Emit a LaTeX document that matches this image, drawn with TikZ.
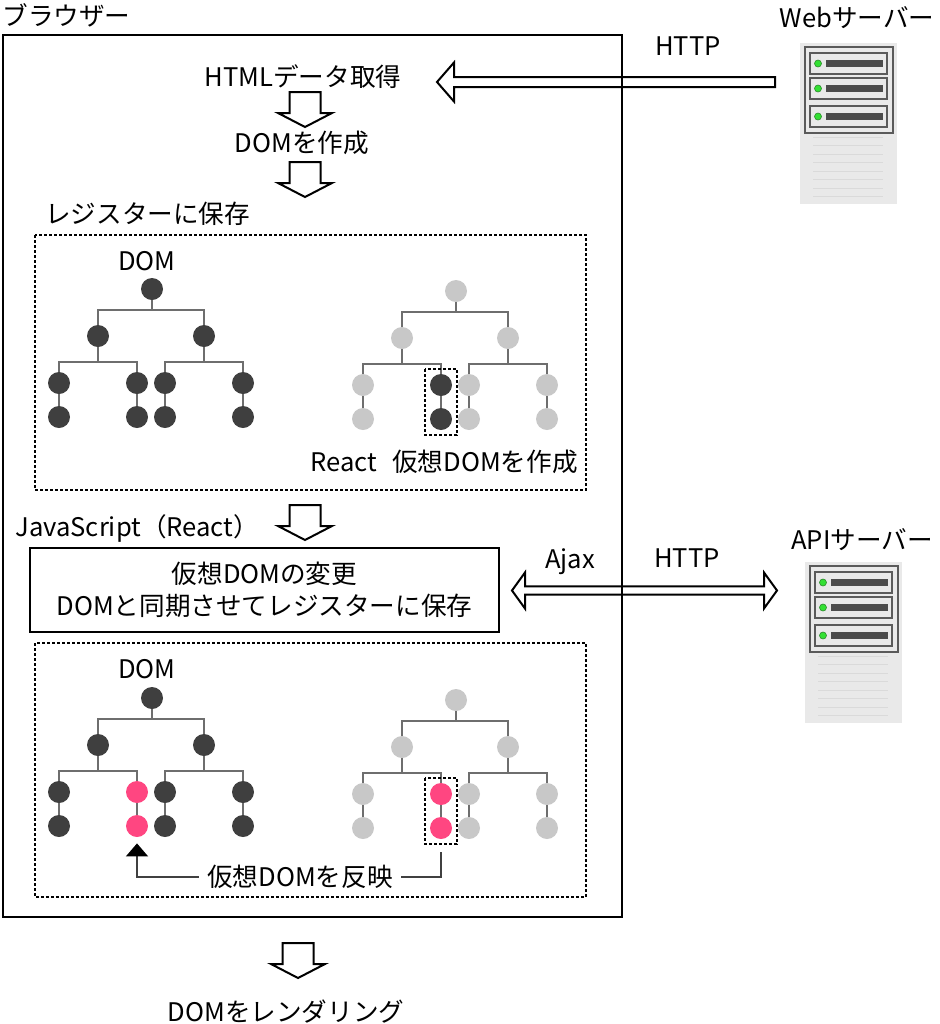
\documentclass[tikz,border=0pt]{standalone}
\usepackage{fontspec}
\setmainfont{Noto Sans CJK JP}
\usepackage{tikz}
\usetikzlibrary{arrows.meta, calc}
\definecolor{NodeDark}{HTML}{3F3F3F}
\definecolor{NodeLight}{HTML}{C8C8C8}
\definecolor{NodePink}{HTML}{FF4681}
\definecolor{TreeLine}{HTML}{6E6E6E}
\definecolor{RackBg}{HTML}{E9E9E9}
\definecolor{RackLine}{HTML}{5A5A5A}
\definecolor{RackBar}{HTML}{4B4B4B}
\definecolor{RackRule}{HTML}{DADADA}
\definecolor{Led}{HTML}{33E033}
\definecolor{LedEdge}{HTML}{2A8A2A}
\newcommand{\DomTree}[4]{
	\def\tfill{#3}
	\def\tpick{#4}
	\begin{scope}[shift={(#2)}]
		\node[dot, fill=\tfill] (#1-r) at (0,0) {};
		\node[dot, fill=\tfill] (#1-a) at (-54,47) {};
		\node[dot, fill=\tfill] (#1-b) at (52,47) {};
		\node[dot, fill=\tfill] (#1-aa) at (-93,94) {};
		\node[dot, fill=\tpick] (#1-ab) at (-15,94) {};
		\node[dot, fill=\tfill] (#1-ba) at (13,94) {};
		\node[dot, fill=\tfill] (#1-bb) at (91,94) {};
		\node[dot, fill=\tfill] (#1-aa2) at (-93,128) {};
		\node[dot, fill=\tpick] (#1-ab2) at (-15,128) {};
		\node[dot, fill=\tfill] (#1-ba2) at (13,128) {};
		\node[dot, fill=\tfill] (#1-bb2) at (91,128) {};

		\draw[treeline] (#1-r) -- (0,21);
		\draw[treeline] (#1-a) |- (0,21) -| (#1-b);
		\draw[treeline] (#1-a) -- (-54,73);
		\draw[treeline] (#1-aa) |- (-54,73) -| (#1-ab);
		\draw[treeline] (#1-b) -- (52,73);
		\draw[treeline] (#1-ba) |- (52,73) -| (#1-bb);
		\foreach \k in {aa,ab,ba,bb} \draw[treeline] (#1-\k) -- (#1-\k2);
	\end{scope}
}
\newcommand{\ServerRack}[2]{
	\begin{scope}[shift={(#2)}]
		\fill[RackBg] (0,0) rectangle (97,161);
		\coordinate (#1) at (48.5,80.5);
		\draw[RackLine, line width=0.6pt] (5,4) rectangle (93,90);
		\foreach \t in {10,35,63}{
			\draw[RackLine, line width=0.6pt] (10,\t) rectangle (87,\t+21);
			\filldraw[draw=LedEdge, fill=Led, line width=0.3pt] (18,\t+10.5) circle (3.5);
			\filldraw[draw=black!70, fill=RackBar, line width=0.4pt] (26,\t+7.5) rectangle (82,\t+13.5);
		}
		\foreach \l in {0,...,7} \draw[RackRule, line width=0.5pt] (13,94+8.5*\l) -- (83,94+8.5*\l);
	\end{scope}
}
\newcommand{\DownArrow}[1]{
	\draw[hollow] ($(#1)+(-15.5,0)$) -- ++(31,0) -- ++(0,21) -- ++(11.5,0) -- ++(-27,14) -- ++(-27,-14) -- ++(11.5,0) -- cycle;
}

\begin{document}
\begin{tikzpicture}[x=0.5pt, y=-0.5pt, line cap=butt,
		every node/.style={font=\fontsize{12.8}{16}\selectfont, inner sep=0pt},
		dot/.style={circle, minimum size=11pt, inner sep=0pt},
		treeline/.style={TreeLine, line width=0.8pt},
		dotbox/.style={dash pattern=on 1.5pt off 1pt, line width=0.9pt},
		hollow/.style={line width=1pt, line join=miter},
		refline/.style={black!75, line width=0.7pt}
	]

	\useasboundingbox (0,0) rectangle (939,1024);

	% browser
	\node[anchor=west] (browser) at (2,15) {ブラウザー};
	\draw[line width=1.2pt] (3,35) rectangle (622,917);

	\node (html) at (303,77) {HTMLデータ取得};
	\node (dom) at (302,143) {DOMを作成};
	\coordinate (a1) at (305,92);
	\coordinate (a2) at (305,162);
	\DownArrow{a1}
	\DownArrow{a2}

	% register
	\node[anchor=west] (reg) at (45,214) {レジスターに保存};
	\draw[dotbox] (35,235) rectangle (586,490);
	\node (dom1) at (147,261) {DOM};
	\DomTree{L1}{152,289}{NodeDark}{NodeDark}
	\DomTree{R1}{456,291}{NodeLight}{NodeDark}
	\draw[dotbox] ($(R1-ab)+(-16,-16)$) rectangle ($(R1-ab2)+(16,16)$);
	\node (vdom) at (444,462) {React\hspace{0.6em}仮想DOMを作成};

	% javascript
	\coordinate (a3) at (305,505);
	\DownArrow{a3}
	\node[anchor=west] (js) at (15,528) {JavaScript（React）};
	\node[draw, line width=0.9pt, minimum width=234.5pt, minimum height=42pt, align=center] (jsbox) at (264.5,590) {仮想DOMの変更\\DOMと同期させてレジスターに保存};

	\draw[dotbox] (35,643) rectangle (586,897);
	\node (dom2) at (147,669) {DOM};
	\DomTree{L2}{152,698}{NodeDark}{NodePink}
	\DomTree{R2}{456,700}{NodeLight}{NodePink}
	\draw[dotbox] ($(R2-ab)+(-16,-16)$) rectangle ($(R2-ab2)+(16,16)$);

	\node[inner xsep=4pt] (reflect) at (300,877) {仮想DOMを反映};
	\coordinate (reflect-src) at ($(R2-ab2)+(0,24)$);
	\draw[refline] (reflect-src) |- (reflect.east);
	\draw[refline, -{Triangle[width=11pt, length=6.5pt, black]}, shorten >=3pt] (reflect.west) -| (L2-ab2);

	% render
	\coordinate (a4) at (298,943);
	\DownArrow{a4}
	\node (render) at (286,1012) {DOMをレンダリング};

	% servers
	\node (web) at (857,18) {Webサーバー};
	\ServerRack{webrack}{800,43}
	\node (api) at (862,540) {APIサーバー};
	\ServerRack{apirack}{805,562}

	\node (http1) at (688,46) {HTTP};
	\coordinate (html-in) at (437,82);
	\coordinate (web-out) at (775,82);
	\draw[hollow] (html-in) -- ++(17,-19.5) -- ++(0,14.5) -- ($(web-out)+(0,-5)$) -- ++(0,10) -- ($(html-in)+(17,5)$) -- ++(0,14.5) -- cycle;

	\node (ajax) at (570,562) {Ajax};
	\node (http2) at (687,558) {HTTP};
	\coordinate (ajax-l) at (512,590.5);
	\coordinate (api-r) at (777,590.5);
	\draw[hollow] (ajax-l) -- ++(13,-18) -- ++(0,13.8) -- ($(api-r)+(-13,-4.2)$) -- ++(0,-13.8) -- (api-r) -- ++(-13,18) -- ++(0,-13.8) -- ($(ajax-l)+(13,4.2)$) -- ++(0,13.8) -- cycle;

\end{tikzpicture}
\end{document}
